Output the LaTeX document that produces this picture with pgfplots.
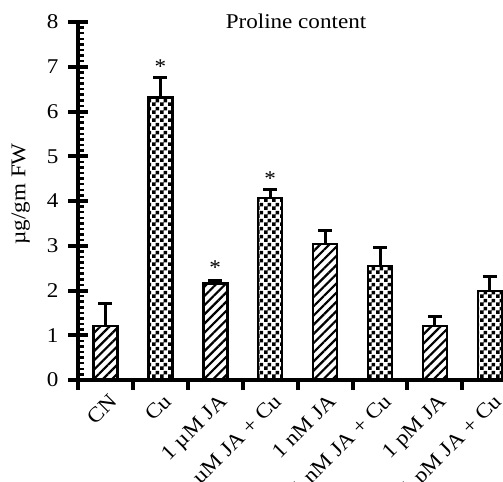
\documentclass[border=0pt]{standalone}
\usepackage{pgfplots}
\pgfplotsset{compat=1.18}
\usepackage{fontspec}
\setmainfont{Liberation Serif}[FakeStretch=1.1]
\usetikzlibrary{patterns,patterns.meta}
\pgfdeclarepatternformonly{checker}{\pgfpointorigin}{\pgfpoint{8bp}{8bp}}{\pgfpoint{8bp}{8bp}}{%
  \pgfpathrectangle{\pgfpointorigin}{\pgfpoint{4.05bp}{4.05bp}}%
  \pgfpathrectangle{\pgfpoint{4bp}{4bp}}{\pgfpoint{4.05bp}{4.05bp}}%
  \pgfusepath{fill}}
\begin{document}
\begin{tikzpicture}[font=\fontsize{21bp}{25bp}\selectfont]
\path[use as bounding box] (0,0) rectangle (503bp,482bp);
\begin{axis}[
  scale only axis,
  width=425bp, height=358bp,
  at={(78bp,102bp)}, anchor=south west,
  xmin=-0.5, xmax=7.24,
  ymin=0, ymax=8,
  axis x line=bottom, axis y line=left,
  axis line style={-, line width=4bp},
  /pgf/number format/assume math mode=true,
  ytick={0,1,...,8},
  minor y tick num=7,
  ytick align=inside,
  major tick length=10bp,
  minor tick length=6bp,
  major tick style={line width=4bp, black},
  minor tick style={line width=2.5bp, black},
  extra y ticks={0,1,...,8},
  extra y tick labels={},
  extra y tick style={tick align=outside},
  yticklabel style={xshift=-16bp},
  xtick={-0.5,0.5,...,6.5},
  xticklabels={},
  xtick align=outside,
  extra x ticks={0,1,...,7},
  extra x tick labels={CN,Cu,1 µM JA,1 µM JA + Cu,1 nM JA,1 nM JA + Cu,1 pM JA,1 pM JA + Cu},
  extra x tick style={major tick length=0pt, tick label style={rotate=45, anchor=north east, inner sep=0pt, xshift=-7bp, yshift=-11bp}},
  ylabel={µg/gm FW},
  ylabel style={at={(axis description cs:-0.135,0.52)}, anchor=center},
  clip=false,
]
\addplot[ybar, bar width=24bp, bar shift=0pt, draw=black, line width=2.5bp,
  pattern={Lines[angle=45,distance=6.5bp,line width=2.2bp]},
  error bars/.cd, y dir=plus, y explicit,
  error bar style={line width=3bp, black},
  error mark options={line width=3bp, mark size=7bp, rotate=90, black}]
coordinates {(0,1.21) +- (0,0.49) (2,2.16) +- (0,0.07) (4,3.04) +- (0,0.29) (6,1.21) +- (0,0.20)};
\addplot[ybar, bar width=24bp, bar shift=0pt, draw=black, line width=2.5bp,
  pattern=checker,
  error bars/.cd, y dir=plus, y explicit,
  error bar style={line width=3bp, black},
  error mark options={line width=3bp, mark size=7bp, rotate=90, black}]
coordinates {(1,6.31) +- (0,0.45) (3,4.07) +- (0,0.19) (5,2.55) +- (0,0.42) (7,1.99) +- (0,0.32)};
\node[anchor=base] at (axis cs:1,6.84) {*};
\node[anchor=base] at (axis cs:2,2.35) {*};
\node[anchor=base] at (axis cs:3,4.34) {*};
\end{axis}
\node[anchor=base] at (296bp,453bp) {Proline content};
\end{tikzpicture}
\end{document}
